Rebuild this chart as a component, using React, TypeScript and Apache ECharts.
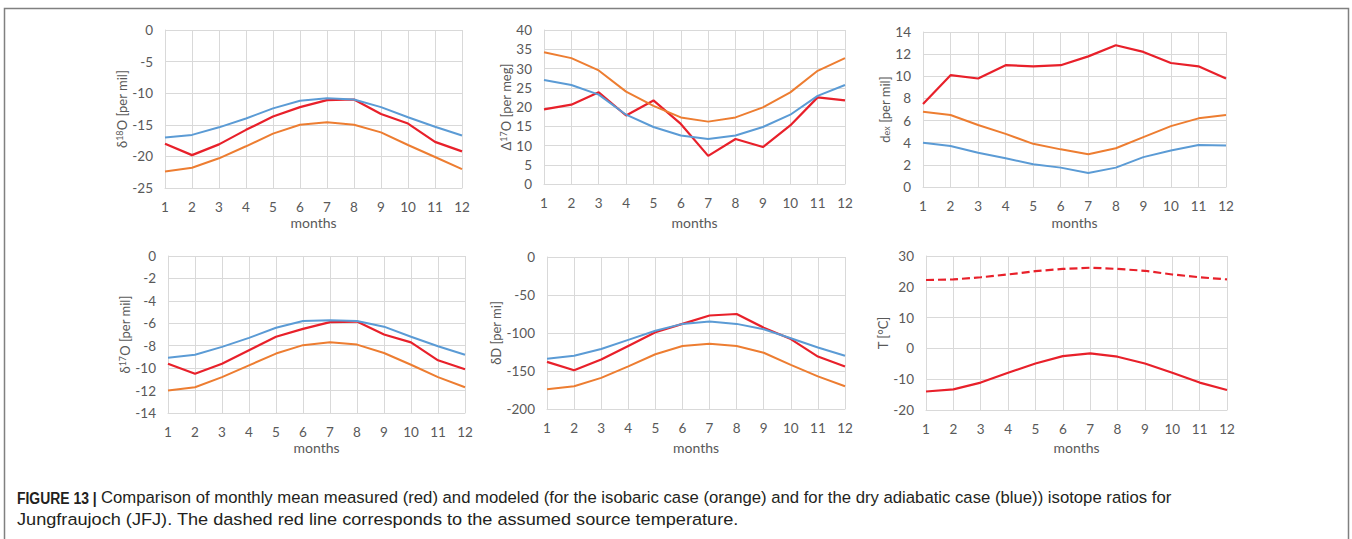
import React, { useEffect, useRef } from "react";
import * as echarts from "echarts";

const months = ["1", "2", "3", "4", "5", "6", "7", "8", "9", "10", "11", "12"];

// Panel 1: δ18O [per mil]
const d18O_meas = [-18.0, -19.8, -18.1, -15.8, -13.7, -12.2, -11.1, -11.0, -13.3, -14.8, -17.7, -19.2];
const d18O_iso = [-22.4, -21.8, -20.3, -18.4, -16.4, -15.0, -14.6, -15.0, -16.2, -18.2, -20.1, -22.0];
const d18O_dry = [-17.0, -16.6, -15.4, -14.0, -12.4, -11.2, -10.8, -11.0, -12.2, -13.8, -15.3, -16.7];

// Panel 2: Δ17O [per meg]
const D17O_meas = [19.4, 20.6, 23.8, 17.8, 21.7, 15.6, 7.3, 11.7, 9.6, 15.2, 22.5, 21.7];
const D17O_iso = [34.2, 32.7, 29.5, 24.0, 20.3, 17.3, 16.2, 17.3, 19.9, 23.8, 29.4, 32.7];
const D17O_dry = [27.0, 25.7, 23.2, 18.0, 14.8, 12.6, 11.7, 12.6, 14.8, 18.0, 22.9, 25.7];

// Panel 3: d_ex [per mil]
const dex_meas = [7.5, 10.1, 9.8, 11.0, 10.9, 11.0, 11.8, 12.8, 12.2, 11.2, 10.9, 9.8];
const dex_iso = [6.8, 6.5, 5.6, 4.8, 3.9, 3.4, 2.95, 3.5, 4.5, 5.5, 6.2, 6.5];
const dex_dry = [4.0, 3.7, 3.1, 2.6, 2.05, 1.75, 1.27, 1.75, 2.7, 3.3, 3.8, 3.75];

// Panel 4: δ17O [per mil]
const d17O_meas = [-9.6, -10.5, -9.6, -8.4, -7.2, -6.5, -5.9, -5.85, -7.0, -7.7, -9.3, -10.1];
const d17O_iso = [-12.0, -11.7, -10.8, -9.75, -8.7, -7.95, -7.7, -7.9, -8.65, -9.7, -10.8, -11.7];
const d17O_dry = [-9.07, -8.8, -8.1, -7.3, -6.4, -5.8, -5.74, -5.8, -6.3, -7.2, -8.05, -8.8];

// Panel 5: δD [per mil]
const dD_meas = [-138, -149, -135, -117, -99, -88, -77, -75, -93, -108, -131, -144];
const dD_iso = [-174, -170, -159, -144, -128, -117, -114, -117, -126, -142, -157, -170];
const dD_dry = [-134, -130, -121, -109, -97, -88, -85, -88, -95, -107, -119, -130];

// Panel 6: T [°C]
const T_site = [-14.0, -13.3, -11.1, -7.9, -4.9, -2.5, -1.6, -2.7, -4.9, -7.9, -11.1, -13.5];
const T_source = [22.2, 22.4, 23.1, 24.0, 25.1, 25.8, 26.2, 25.8, 25.2, 24.0, 23.1, 22.4];

const captionBold = "FIGURE 13 |";
const captionLine1 =
  "Comparison of monthly mean measured (red) and modeled (for the isobaric case (orange) and for the dry adiabatic case (blue)) isotope ratios for";
const captionLine2 = "Jungfraujoch (JFJ). The dashed red line corresponds to the assumed source temperature.";

const RED = "#e8202a";
const ORANGE = "#ed7d31";
const BLUE = "#5b9bd5";
const GRIDC = "#d9d9d9";
const LABELC = "#595959";
const FONT = "Lato, 'Open Sans', sans-serif";
const CAPFONT = "'Liberation Sans', Arial, sans-serif";

type Panel = {
  grid: { left: number; top: number; width: number; height: number };
  min: number;
  max: number;
  interval: number;
  name: string;
  nameGap: number;
  xNameGap: number;
  series: { data: number[]; color: string; width: number; dashed?: boolean }[];
};

const panels: Panel[] = [
  {
    grid: { left: 165, top: 30, width: 297, height: 158 },
    min: -25, max: 0, interval: 5,
    name: "δ{sup|18}O [per mil]", nameGap: 36, xNameGap: 27,
    series: [
      { data: d18O_meas, color: RED, width: 2.2 },
      { data: d18O_iso, color: ORANGE, width: 2 },
      { data: d18O_dry, color: BLUE, width: 2 },
    ],
  },
  {
    grid: { left: 544, top: 30, width: 301, height: 154 },
    min: 0, max: 40, interval: 5,
    name: "Δ{sup|17}O [per meg]", nameGap: 32, xNameGap: 31,
    series: [
      { data: D17O_meas, color: RED, width: 2.2 },
      { data: D17O_iso, color: ORANGE, width: 2 },
      { data: D17O_dry, color: BLUE, width: 2 },
    ],
  },
  {
    grid: { left: 923, top: 32, width: 303, height: 155 },
    min: 0, max: 14, interval: 2,
    name: "d{sub|ex} [per mil]", nameGap: 31, xNameGap: 28,
    series: [
      { data: dex_meas, color: RED, width: 2.2 },
      { data: dex_iso, color: ORANGE, width: 2 },
      { data: dex_dry, color: BLUE, width: 2 },
    ],
  },
  {
    grid: { left: 168, top: 256, width: 297, height: 157 },
    min: -14, max: 0, interval: 2,
    name: "δ{sup|17}O [per mil]", nameGap: 35, xNameGap: 27,
    series: [
      { data: d17O_meas, color: RED, width: 2.2 },
      { data: d17O_iso, color: ORANGE, width: 2 },
      { data: d17O_dry, color: BLUE, width: 2 },
    ],
  },
  {
    grid: { left: 547, top: 257, width: 298, height: 152 },
    min: -200, max: 0, interval: 50,
    name: "δD [per mi]", nameGap: 35, xNameGap: 31,
    series: [
      { data: dD_meas, color: RED, width: 2.2 },
      { data: dD_iso, color: ORANGE, width: 2 },
      { data: dD_dry, color: BLUE, width: 2 },
    ],
  },
  {
    grid: { left: 926, top: 256, width: 301, height: 154 },
    min: -20, max: 30, interval: 10,
    name: "T [°C]", nameGap: 34, xNameGap: 30,
    series: [
      { data: T_source, color: RED, width: 2.2, dashed: true },
      { data: T_site, color: RED, width: 2.2 },
    ],
  },
];

export default function App() {
  const ref = useRef<HTMLDivElement>(null);
  useEffect(() => {
    if (!ref.current) return;
    const chart = echarts.init(ref.current, undefined, { renderer: "svg" });
    const grid = panels.map((p) => ({ ...p.grid, containLabel: false }));
    const xAxis = panels.map((p, i) => ({
      type: "category",
      gridIndex: i,
      data: months,
      boundaryGap: false,
      name: "months",
      nameLocation: "middle",
      nameGap: p.xNameGap,
      nameTextStyle: { color: LABELC, fontSize: 14, fontFamily: FONT },
      axisLine: { show: true, onZero: false, lineStyle: { color: GRIDC, width: 1 } },
      axisTick: { show: false },
      axisLabel: { interval: 0, margin: 12, color: LABELC, fontSize: 13.5, fontFamily: FONT },
      splitLine: { show: true, interval: 0, lineStyle: { color: GRIDC, width: 1 } },
    }));
    const yAxis = panels.map((p, i) => ({
      type: "value",
      gridIndex: i,
      min: p.min,
      max: p.max,
      interval: p.interval,
      name: p.name,
      nameLocation: "middle",
      nameGap: p.nameGap,
      nameTextStyle: {
        color: LABELC,
        fontSize: 13,
        fontFamily: FONT,
        rich: {
          sup: { fontSize: 9, fontFamily: FONT, color: LABELC, verticalAlign: "top", lineHeight: 9 },
          sub: { fontSize: 9, fontFamily: FONT, color: LABELC, verticalAlign: "bottom", lineHeight: 9 },
        },
      },
      axisLine: { show: true, lineStyle: { color: GRIDC, width: 1 } },
      axisTick: { show: false },
      axisLabel: { margin: 12, color: LABELC, fontSize: 13.5, fontFamily: FONT },
      splitLine: { show: true, lineStyle: { color: GRIDC, width: 1 } },
    }));
    const series: any[] = [];
    panels.forEach((p, i) => {
      p.series.forEach((s) => {
        series.push({
          type: "line",
          xAxisIndex: i,
          yAxisIndex: i,
          data: s.data,
          showSymbol: false,
          symbol: "none",
          lineStyle: { color: s.color, width: s.width, type: s.dashed ? [8, 4] : "solid" },
          itemStyle: { color: s.color },
          emphasis: { disabled: true },
        });
      });
    });
    chart.setOption({
      animation: false,
      backgroundColor: "#ffffff",
      grid,
      xAxis,
      yAxis,
      series,
      graphic: [
        {
          type: "rect",
          shape: { x: 4.5, y: 8.5, width: 1344, height: 600 },
          style: { fill: "none", stroke: "#808080", lineWidth: 1.5 },
          silent: true,
        },
        {
          type: "text",
          x: 17,
          y: 498,
          scaleX: 0.87,
          style: {
            text: captionBold,
            fill: "#231f20",
            fontSize: 16,
            fontWeight: "bold",
            fontFamily: CAPFONT,
            verticalAlign: "middle",
          },
        },
        {
          type: "text",
          x: 101,
          y: 498,
          scaleX: 1.013,
          style: {
            text: captionLine1,
            fill: "#231f20",
            fontSize: 16.5,
            fontFamily: CAPFONT,
            verticalAlign: "middle",
          },
        },
        {
          type: "text",
          x: 17,
          y: 519,
          scaleX: 1.1,
          style: {
            text: captionLine2,
            fill: "#231f20",
            fontSize: 16.5,
            fontFamily: CAPFONT,
            verticalAlign: "middle",
          },
        },
      ],
    });
    return () => chart.dispose();
  }, []);
  return (
    <div
      ref={ref}
      style={{ position: "absolute", left: 0, top: 0, width: 1352, height: 539, background: "#fff" }}
    />
  );
}
